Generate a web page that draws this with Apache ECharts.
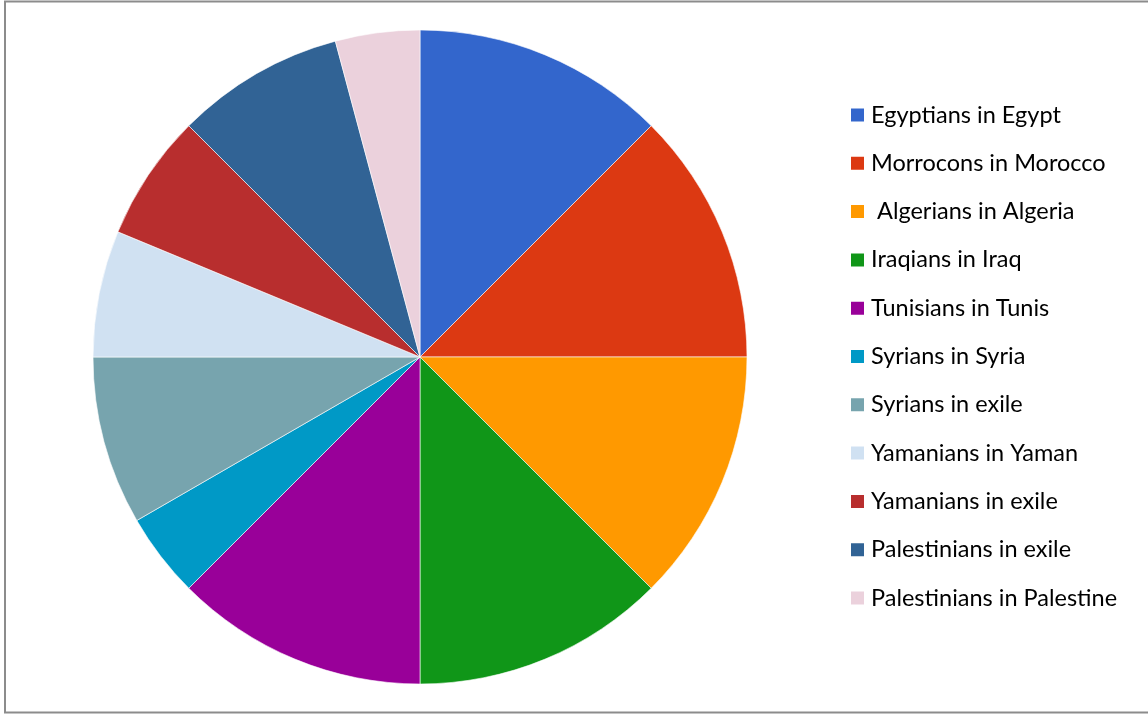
<!DOCTYPE html>
<html>
<head>
<meta charset="utf-8">
<script src="https://cdn.jsdelivr.net/npm/echarts@6/dist/echarts.min.js"></script>
<style>
  html, body { margin: 0; padding: 0; background: #fff; }
  #chart { width: 1148px; height: 714px; }
</style>
</head>
<body>
<div id="chart"></div>
<script>
// Groups and their shares
const categories = [
  'Egyptians in Egypt',
  'Morrocons in Morocco',
  ' Algerians in Algeria',
  'Iraqians in Iraq',
  'Tunisians in Tunis',
  'Syrians in Syria',
  'Syrians in exile',
  'Yamanians in Yaman',
  'Yamanians in exile',
  'Palestinians in exile',
  'Palestinians in Palestine'
];
const values = [3, 3, 3, 3, 3, 1, 2, 1.5, 1.5, 2, 1];
const colors = [
  '#3366CC', '#DC3912', '#FF9900', '#109618', '#990099', '#0099C6',
  '#77A4AE', '#D0E1F2', '#B82E2E', '#316395', '#EBD1DC'
];

const chart = echarts.init(document.getElementById('chart'));
chart.setOption({
  animation: false,
  backgroundColor: '#fff',
  color: colors,
  graphic: [{
    type: 'rect',
    shape: { x: 5, y: 1.5, width: 1200, height: 711 },
    style: { fill: 'none', stroke: '#8c8c8c', lineWidth: 2 },
    silent: true
  }],
  legend: {
    orient: 'vertical',
    left: 849,
    top: 103,
    padding: 0,
    itemWidth: 15,
    itemHeight: 15,
    itemGap: 24.3,
    icon: 'rect',
    textStyle: { fontFamily: 'Lato', fontSize: 23.5, color: '#000', padding: [0, 0, 0, 1] },
    data: categories
  },
  series: [{
    type: 'pie',
    center: [420, 357],
    radius: [0, 327],
    startAngle: 90,
    clockwise: true,
    label: { show: false },
    labelLine: { show: false },
    itemStyle: { borderColor: '#fff', borderWidth: 0.6 },
    emphasis: { disabled: true },
    data: categories.map((c, i) => ({ name: c, value: values[i] }))
  }]
});
</script>
</body>
</html>
